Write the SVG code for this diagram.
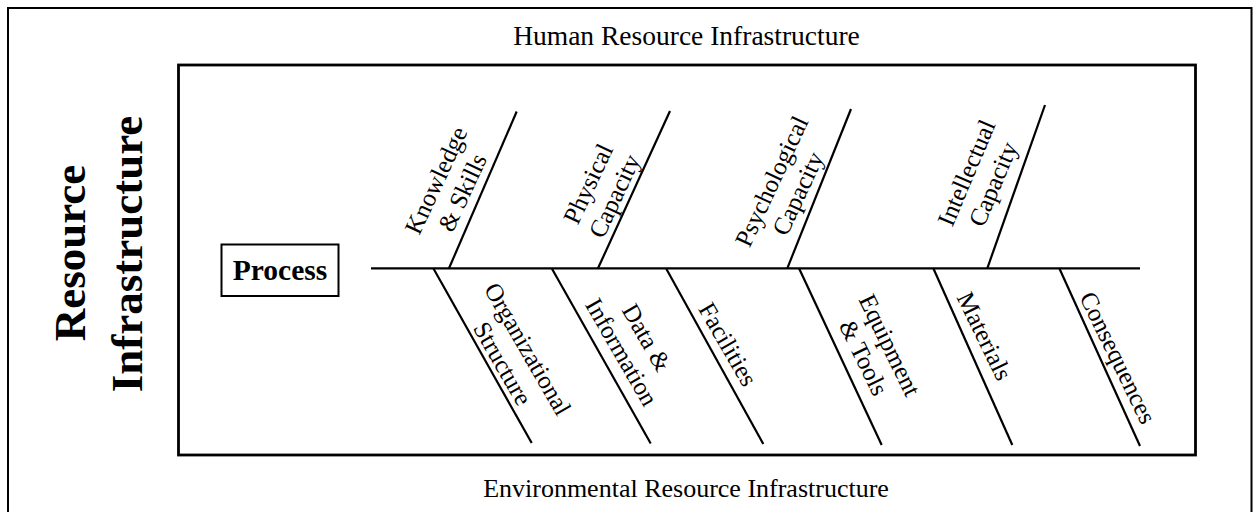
<svg xmlns="http://www.w3.org/2000/svg" width="1253" height="512" viewBox="0 0 1253 512">
  <style>
    .frame { fill: none; stroke: #000; }
    .bone { stroke: #000; stroke-width: 2.2; stroke-linecap: butt; }
    .title { font-family: "Liberation Serif", "Times New Roman", serif; font-size: 26.5px; fill: #000; text-anchor: middle; }
    .side { font-family: "Liberation Serif", "Times New Roman", serif; font-size: 45px; font-weight: bold; fill: #000; text-anchor: middle; }
    .label { font-family: "Liberation Serif", "Times New Roman", serif; font-size: 25px; fill: #000; text-anchor: middle; }
    .head { font-family: "Liberation Serif", "Times New Roman", serif; font-size: 29.5px; font-weight: bold; fill: #000; text-anchor: middle; }
  </style>

  <rect width="1253" height="512" fill="#fff"/>

  <!-- outer frame (open at the bottom edge of the canvas) -->
  <rect id="outer-frame" class="frame" x="8" y="8" width="1243.5" height="520" stroke-width="2"/>

  <!-- side heading -->
  <g id="side-heading">
    <text class="side" transform="translate(85,253) rotate(-90)">Resource</text>
    <text class="side" transform="translate(142,254) rotate(-90)">Infrastructure</text>
  </g>

  <!-- band titles -->
  <text id="title-human" class="title" x="686.5" y="45" style="font-size:27.5px">Human Resource Infrastructure</text>
  <text id="title-environmental" class="title" x="686" y="497" style="font-size:26px">Environmental Resource Infrastructure</text>

  <!-- inner frame -->
  <rect id="inner-frame" class="frame" x="178.5" y="65" width="1017" height="390" stroke-width="2.8"/>

  <!-- effect box -->
  <g id="process">
    <rect class="frame" x="221.5" y="244.5" width="117" height="51.5" stroke-width="2"/>
    <text class="head" x="280" y="280">Process</text>
  </g>

  <!-- spine and bones -->
  <g id="connectors">
    <line class="bone" x1="371" y1="268.3" x2="1140" y2="268.3"/>
    <!-- upper bones -->
    <line class="bone" x1="449" y1="268.3" x2="516.7" y2="111.5"/>
    <line class="bone" x1="598" y1="268.3" x2="670" y2="111"/>
    <line class="bone" x1="787.3" y1="268.3" x2="851" y2="109"/>
    <line class="bone" x1="987.3" y1="268.3" x2="1045" y2="105"/>
    <!-- lower bones -->
    <line class="bone" x1="433.3" y1="268.3" x2="531.7" y2="443"/>
    <line class="bone" x1="551.7" y1="268.3" x2="650.7" y2="443.5"/>
    <line class="bone" x1="666" y1="268.3" x2="763.3" y2="444"/>
    <line class="bone" x1="799" y1="268.3" x2="881.7" y2="445"/>
    <line class="bone" x1="933.3" y1="268.3" x2="1012.3" y2="445"/>
    <line class="bone" x1="1059.3" y1="268.3" x2="1140" y2="446"/>
  </g>

  <!-- upper labels -->
  <g id="knowledge-skills">
    <text class="label" transform="translate(450.5,187) rotate(-65)"><tspan x="0" y="-7.5">Knowledge</tspan><tspan x="0" y="21.5">&amp; Skills</tspan></text>
  </g>
  <g id="physical-capacity">
    <text class="label" transform="translate(602.5,190.5) rotate(-65)"><tspan x="0" y="-7.5">Physical</tspan><tspan x="0" y="21.5">Capacity</tspan></text>
  </g>
  <g id="psychological-capacity">
    <text class="label" transform="translate(786,188) rotate(-65)"><tspan x="0" y="-7.5">Psychological</tspan><tspan x="0" y="21.5">Capacity</tspan></text>
  </g>
  <g id="intellectual-capacity">
    <text class="label" transform="translate(981,179) rotate(-67)"><tspan x="0" y="-7.5">Intellectual</tspan><tspan x="0" y="21.5">Capacity</tspan></text>
  </g>

  <!-- lower labels -->
  <g id="organizational-structure">
    <text class="label" transform="translate(514,357) rotate(60)"><tspan x="0" y="-7.5">Organizational</tspan><tspan x="0" y="21.5">Structure</tspan></text>
  </g>
  <g id="data-information">
    <text class="label" transform="translate(633,345.4) rotate(60)"><tspan x="0" y="-7.5">Data &amp;</tspan><tspan x="0" y="21.5">Information</tspan></text>
  </g>
  <g id="facilities">
    <text class="label" transform="translate(726.7,345) rotate(60)"><tspan x="0" y="7">Facilities</tspan></text>
  </g>
  <g id="equipment-tools">
    <text class="label" transform="translate(875.5,352) rotate(64)"><tspan x="0" y="-7.5">Equipment</tspan><tspan x="0" y="21.5">&amp; Tools</tspan></text>
  </g>
  <g id="materials">
    <text class="label" transform="translate(983.3,336.7) rotate(64)"><tspan x="0" y="7">Materials</tspan></text>
  </g>
  <g id="consequences">
    <text class="label" transform="translate(1116.7,358.3) rotate(64)"><tspan x="0" y="7">Consequences</tspan></text>
  </g>
</svg>
